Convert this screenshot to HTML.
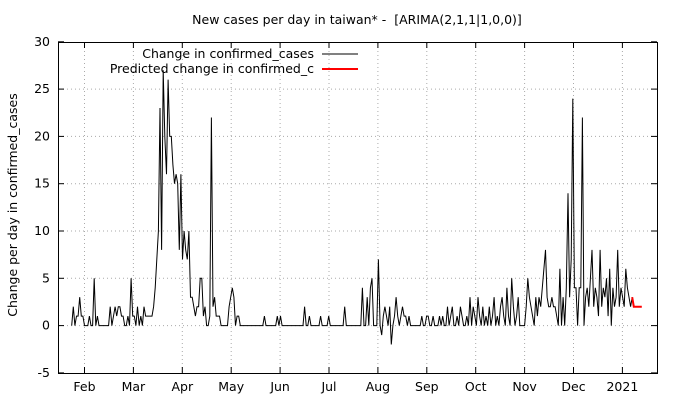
<!DOCTYPE html>
<html><head><meta charset="utf-8"><style>
body{margin:0;background:#fff}
svg text{font-family:"DejaVu Sans","Liberation Sans",sans-serif;font-size:12.5px;fill:#000}
</style></head><body>
<svg id="chart" width="680" height="400" viewBox="0 0 680 400" xmlns="http://www.w3.org/2000/svg">
<text x="357" y="24" text-anchor="middle" xml:space="preserve">New cases per day in taiwan* -  [ARIMA(2,1,1|1,0,0)]</text>
<text transform="translate(17,205) rotate(-90)" text-anchor="middle">Change per day in confirmed_cases</text>
<g id="grid"></g><g id="axes"></g><g id="series"></g>
<rect x="58.5" y="42.5" width="599" height="331" fill="none" stroke="#000" stroke-width="1"/>
<g>
<text x="314" y="58" text-anchor="end">Change in confirmed_cases</text>
<line x1="322" y1="54" x2="358" y2="54" stroke="#000" stroke-width="1"/>
<text x="314" y="73" text-anchor="end">Predicted change in confirmed_c</text>
<line x1="322" y1="69" x2="358" y2="69" stroke="#f00" stroke-width="2"/>
</g>
</svg>
<script>
const monthLabels=["Feb","Mar","Apr","May","Jun","Jul","Aug","Sep","Oct","Nov","Dec","2021"];
const yTicks=[-5,0,5,10,15,20,25,30];
const actual=[0,2,0,1,1,3,1,1,0,0,0,1,0,0,5,0,1,0,0,0,0,0,0,0,2,0,1,2,1,2,2,1,1,0,0,1,0,5,1,1,0,2,0,1,0,2,1,1,1,1,
1,2,4,7,10,23,8,27,20,16,26,20,20,17,15,16,15,8,16,7,10,8,7,10,3,3,2,1,2,2,5,5,1,2,0,0,1,22,2,3,1,1,1,0,0,0,0,0,2,3,
4,3,0,1,1,0,0,0,0,0,0,0,0,0,0,0,0,0,0,0,1,0,0,0,0,0,0,0,1,0,1,0,0,0,0,0,0,0,0,0,0,0,0,0,0,2,0,0,1,0,
0,0,0,0,0,1,0,0,0,0,1,0,0,0,0,0,0,0,0,0,2,0,0,0,0,0,0,0,0,0,0,4,0,0,3,0,4,5,0,0,0,7,0,-1,1,2,1,0,2,-2,
0,1,3,1,0,1,2,1,1,0,1,0,0,0,0,0,0,0,1,0,0,1,
1,0,0,1,0,0,0,1,0,1,0,0,2,0,1,2,0,0,1,0,2,1,0,0,1,0,3,0,2,1,0,3,1,0,2,0,1,0,2,0,1,3,0,1,0,2,3,1,0,4,1,0,5,2,0,1,3,0,0,0,0,2,
5,3,2,1,0,3,1,3,2,4,6,8,3,2,2,3,2,2,1,0,6,0,3,0,4,14,3,7,24,4,4,0,4,4,22,0,3,4,2,5,8,2,4,3,1,8,2,4,3,5,1,6,0,4,2,3,8,2,4,3,2,6,4,3,2,3];
const predicted=[3,2,2,2,2,2,2];
const predStart=actual.length-1;
const X0=71.7,DX=1.606,Y0=325.6,DY=9.46;
const xs=d=>X0+d*DX, ys=v=>Y0-v*DY;
const NS="http://www.w3.org/2000/svg";
function mk(t,a,p){const e=document.createElementNS(NS,t);for(const k in a)e.setAttribute(k,a[k]);p.appendChild(e);return e;}
const grid=document.getElementById('grid'),axes=document.getElementById('axes'),ser=document.getElementById('series');
yTicks.forEach(v=>{const y=ys(v);
 if(v>-5&&v<30){const g=mk('line',{x1:59,x2:657,y1:y,y2:y,stroke:'#aaa','stroke-dasharray':'1,3','stroke-width':1},grid);
 
 }
 const t=mk('line',{x1:58,x2:64,y1:y,y2:y,stroke:'#000'},axes);
 
 
 const t2=mk('line',{x1:651,x2:657,y1:y,y2:y,stroke:'#000'},axes);
 
 
 const l=mk('text',{x:50,y:y+4,'text-anchor':'end'},axes);l.textContent=v;
 
 
});
monthLabels.forEach((m,i)=>{const x=84.5+i*48.9;
 const g=mk('line',{x1:x,x2:x,y1:43,y2:373,stroke:'#aaa','stroke-dasharray':'1,3'},grid);
 
 
 const t=mk('line',{x1:x,x2:x,y1:367,y2:373,stroke:'#000'},axes);
 
 
 const t2=mk('line',{x1:x,x2:x,y1:42,y2:48,stroke:'#000'},axes);
 
 
 const l=mk('text',{x:x,y:391,'text-anchor':'middle'},axes);l.textContent=m;
 
 
});
const p1=mk('polyline',{points:actual.map((v,i)=>xs(i).toFixed(1)+','+ys(v).toFixed(1)).join(' '),fill:'none',stroke:'#000','stroke-width':1},ser);


const p2=mk('polyline',{points:predicted.map((v,i)=>xs(predStart+i).toFixed(1)+','+ys(v).toFixed(1)).join(' '),fill:'none',stroke:'#f00','stroke-width':2},ser);


</script>
</body></html>
